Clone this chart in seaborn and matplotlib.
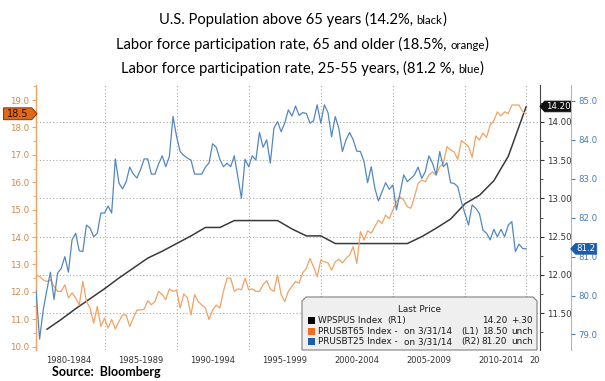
import matplotlib
matplotlib.use("Agg")
import matplotlib.pyplot as plt
import matplotlib.dates as mdates
import matplotlib.ticker as mticker
from matplotlib.patches import Polygon, Rectangle
from matplotlib.path import Path
import pandas as pd
import seaborn as sns

W, H = 605, 381

# Labor force participation rate, 65 and older (quarterly 1980Q1-2014Q1), left axis L1
lfpr_65 = [
    12.62, 12.56, 12.44, 12.38, 12.44, 12.20, 12.02, 12.02, 12.26, 11.78,
    11.96, 11.78, 11.52, 12.38, 11.65, 11.41, 10.86, 11.47, 10.74, 11.04,
    10.68, 10.99, 10.65, 10.92, 11.16, 11.16, 10.74, 11.04, 11.34, 11.34,
    11.37, 11.68, 11.53, 11.65, 12.02, 11.90, 11.72, 12.11, 12.02, 12.06,
    11.41, 11.93, 11.78, 11.16, 11.90, 11.65, 11.52, 11.41, 10.99, 11.34,
    11.52, 11.41, 12.02, 12.50, 12.50, 12.02, 12.11, 12.08, 12.50, 12.08,
    12.11, 12.02, 12.02, 12.26, 12.41, 12.11, 12.02, 12.62, 11.90, 11.65,
    12.02, 12.20, 12.38, 12.32, 12.70, 12.86, 13.22, 12.92, 12.55, 13.16,
    13.10, 13.06, 12.80, 13.10, 13.19, 13.06, 13.22, 13.35, 13.65, 13.04,
    14.20, 13.89, 14.23, 14.14, 14.38, 14.62, 14.50, 14.80, 14.68, 14.99,
    15.29, 15.47, 15.35, 15.11, 15.05, 15.47, 15.96, 16.08, 16.02, 16.26,
    16.38, 16.26, 16.57, 16.69, 17.30, 17.18, 17.11, 16.84, 17.52, 17.42,
    17.30, 16.91, 17.69, 17.54, 17.79, 17.64, 18.09, 18.25, 18.57, 18.42,
    18.57, 18.51, 18.82, 18.82, 18.82, 18.57, 18.50,
]

# Labor force participation rate, 25-55 years (quarterly), right axis R2
lfpr_25_55 = [
    80.14, 78.88, 79.63, 80.14, 80.60, 79.90, 80.58, 80.70, 81.00, 80.60,
    81.43, 81.60, 81.15, 81.13, 81.81, 81.73, 81.51, 81.60, 82.12, 82.12,
    82.30, 82.12, 83.51, 82.89, 82.74, 82.92, 83.30, 83.12, 83.02, 83.23,
    83.51, 83.51, 83.12, 83.12, 83.38, 83.59, 83.31, 83.57, 84.60, 84.08,
    83.70, 83.60, 83.53, 83.48, 83.12, 83.12, 83.12, 83.30, 83.41, 83.90,
    83.81, 83.50, 83.31, 83.40, 83.31, 83.59, 83.05, 82.50, 83.50, 83.31,
    83.59, 83.48, 84.19, 83.81, 84.00, 83.40, 84.30, 84.47, 84.21, 84.43,
    84.77, 84.61, 84.87, 84.63, 84.70, 84.68, 84.43, 84.49, 84.90, 84.43,
    84.90, 84.70, 84.08, 84.60, 84.30, 83.70, 84.00, 84.19, 84.00, 83.71,
    83.70, 83.44, 82.90, 83.31, 82.76, 82.43, 82.67, 82.90, 82.73, 82.84,
    82.20, 82.63, 83.10, 82.93, 83.01, 83.10, 83.30, 83.01, 83.18, 83.59,
    83.40, 83.10, 83.70, 83.31, 83.41, 82.90, 82.88, 82.80, 82.41, 82.10,
    81.81, 82.33, 82.24, 82.11, 81.68, 81.60, 81.43, 81.70, 81.51, 81.70,
    81.51, 81.81, 81.90, 81.13, 81.32, 81.21, 81.20,
]

# U.S. population above 65 years, % (annual 1981-2013 plus last print), right axis R1
pop_years = list(range(1981, 2014))
pop_65 = [
    11.29, 11.42, 11.56, 11.69, 11.82, 11.96, 12.09, 12.22, 12.31, 12.41,
    12.51, 12.62, 12.62, 12.71, 12.71, 12.71, 12.71, 12.60, 12.51, 12.51,
    12.41, 12.41, 12.41, 12.41, 12.41, 12.41, 12.50, 12.61, 12.73, 12.93,
    13.04, 13.23, 13.55,
]
pop_last_date = "2014-03-31"
pop_last = 14.20

period_labels = ["1980-1984", "1985-1989", "1990-1994", "1995-1999",
                 "2000-2004", "2005-2009", "2010-2014"]

title_main = ["U.S. Population above 65 years (14.2%,",
              "Labor force participation rate, 65 and older (18.5%,",
              "Labor force participation rate, 25-55 years, (81.2 %,"]
title_note = ["black", "orange", "blue"]

legend_names = ["WPSPUS Index", "PRUSBT65 Index -", "PRUSBT25 Index -"]
legend_dates = ["", "on 3/31/14", "on 3/31/14"]
legend_axes = ["(R1)", "(L1)", "(R2)"]
legend_last = ["14.20", "18.50", "81.20"]
legend_change = ["+.30", "unch", "unch"]

quarters = pd.date_range("1980-03-31", "2014-03-31", freq="QE")
pop_dates = pd.to_datetime([f"{y}-01-01" for y in pop_years] + [pop_last_date])
pop_values = pop_65 + [pop_last]

BLACK = "#3a3a3a"
ORANGE = "#f2a261"
BLUE = "#5287c2"
ORANGE_TXT = "#d0884c"
BLUE_TXT = "#4a7cb4"
BLUE_SPINE = 535 / 504
TITLE_FONT = ["Lato", "DejaVu Sans"]

sns.set_style("white")
plt.rcParams["font.family"] = ["DejaVu Sans"]

fig = plt.figure(figsize=(W / 100, H / 100), dpi=100)
ax = fig.add_axes([36 / W, 31 / H, 504 / W, 265 / H])
ax_l = ax.twinx()
ax_b = ax.twinx()

sns.lineplot(x=pop_dates, y=pop_values, ax=ax, color=BLACK, linewidth=1.1)
sns.lineplot(x=quarters, y=lfpr_65, ax=ax_l, color=ORANGE, linewidth=0.9)
sns.lineplot(x=quarters, y=lfpr_25_55, ax=ax_b, color=BLUE, linewidth=0.9)
for a in (ax, ax_l, ax_b):
    a.set(xlabel="", ylabel="")
    for s in a.spines.values():
        s.set_visible(False)

# y axes
ax.yaxis.tick_right()
ax_l.yaxis.tick_left()
ax.set_ylim(11.02, 14.48)
ax_l.set_ylim(9.88, 19.55)
ax_b.set_ylim(78.6, 85.41)

ax.spines["right"].set_visible(True)
ax.spines["right"].set_color("#444444")
ax.spines["right"].set_linewidth(0.8)
ax_l.spines["left"].set_visible(True)
ax_l.spines["left"].set_color(ORANGE)
ax_l.spines["left"].set_linewidth(1.0)
ax_b.spines["right"].set_visible(True)
ax_b.spines["right"].set_position(("axes", BLUE_SPINE))
ax_b.spines["right"].set_color("#9db8d8")
ax_b.spines["right"].set_linewidth(0.8)

ax.yaxis.set_major_locator(mticker.MultipleLocator(0.5))
ax.yaxis.set_minor_locator(mticker.MultipleLocator(0.25))
ax.yaxis.set_major_formatter(mticker.FormatStrFormatter("%.2f"))
ax_l.yaxis.set_major_locator(mticker.MultipleLocator(1.0))
ax_l.yaxis.set_minor_locator(mticker.MultipleLocator(0.5))
ax_l.yaxis.set_major_formatter(mticker.FormatStrFormatter("%.1f"))
ax_b.yaxis.set_major_locator(mticker.MultipleLocator(1.0))
ax_b.yaxis.set_major_formatter(mticker.FormatStrFormatter("%.1f"))

ax.tick_params(axis="y", which="major", direction="out", length=3, width=0.8,
               color="#333333", labelcolor="#333333", labelsize=6.2, pad=2)
ax.tick_params(axis="y", which="minor", direction="out", length=2, width=0.6, color="#333333")
ax_l.tick_params(axis="y", which="major", direction="out", length=3, width=0.8,
                 color=ORANGE, labelcolor=ORANGE_TXT, labelsize=6.2, pad=2)
ax_l.tick_params(axis="y", which="minor", direction="out", length=2, width=0.6, color=ORANGE)
ax_b.tick_params(axis="y", which="major", direction="out", length=3, width=0.8,
                 color=BLUE_TXT, labelcolor=BLUE_TXT, labelsize=6.2, pad=2)

# x axis: period separators and centered period labels
end_num = mdates.date2num(quarters[-1])
ax.set_xlim(mdates.date2num(quarters[0]), mdates.date2num(pd.Timestamp("2015-03-15")))
major_x = [mdates.date2num(pd.Timestamp(f"{y}-01-01")) for y in range(1985, 2015, 5)] + [end_num]
mid_x = [mdates.date2num(pd.Timestamp(f"{y + 2}-07-01")) for y in range(1980, 2015, 5)]
ax.set_xticks(major_x)
ax.set_xticklabels([])
ax.set_xticks(mid_x, period_labels, minor=True)
ax.tick_params(axis="x", which="major", direction="out", length=12, width=0.8, color="#c8c8c8")
ax.tick_params(axis="x", which="minor", length=0, labelsize=6, labelcolor="#333333", pad=4)
ax.annotate("20", xy=(end_num, 0), xycoords=ax.get_xaxis_transform(),
            xytext=(2, -4), textcoords="offset points", ha="left", va="top",
            fontsize=6, color="#333333", annotation_clip=False)

ax.grid(True, axis="both", which="major", linestyle=(0, (1, 2)), color="#a8a8a8", linewidth=0.8)


# last-value tags
def tag_style(point, hpad):
    def style(x0, y0, w, h, mutation_size):
        px, py = hpad * mutation_size, 0.1 * mutation_size
        x0, y0, w, h = x0 - px, y0 - py, w + 2 * px, h + 2 * py
        tip = 0.45 * h
        if point == "right":
            v = [(x0, y0), (x0 + w, y0), (x0 + w + tip, y0 + h / 2), (x0 + w, y0 + h), (x0, y0 + h), (x0, y0)]
        else:
            v = [(x0, y0), (x0 + w, y0), (x0 + w, y0 + h), (x0, y0 + h), (x0 - tip, y0 + h / 2), (x0, y0)]
        return Path(v, closed=True)
    return style


ax_l.annotate(f"{lfpr_65[-1]:.1f}", xy=(0, lfpr_65[-1]), xycoords=ax_l.get_yaxis_transform(),
              xytext=(-5.5, 0), textcoords="offset points", ha="right", va="center",
              fontsize=7, color="#2b1000", annotation_clip=False,
              bbox=dict(boxstyle=tag_style("right", 0.35), fc="#e0681a", ec="#6b2c00", lw=0.6))
ax.annotate(f"{pop_last:.2f}", xy=(1, pop_last), xycoords=ax.get_yaxis_transform(),
            xytext=(4, 0), textcoords="offset points", ha="left", va="center",
            fontsize=6.2, color="white", annotation_clip=False,
            bbox=dict(boxstyle=tag_style("left", 0.1), fc="#111111", ec="#111111", lw=0.6))
ax_b.annotate(f"{lfpr_25_55[-1]:.1f}", xy=(BLUE_SPINE, lfpr_25_55[-1]),
              xycoords=ax_b.get_yaxis_transform(),
              xytext=(4, 0), textcoords="offset points", ha="left", va="center",
              fontsize=6.2, color="white", annotation_clip=False,
              bbox=dict(boxstyle=tag_style("left", 0.12), fc="#1c5daa", ec="#1c5daa", lw=0.6))


# legend box ("Last Price")
def fx(x):
    return x / W


def fy(y):
    return 1 - y / H


box = [(302, 350), (302, 301), (306, 297), (533, 297), (537, 301), (537, 350)]
ax_b.add_patch(Polygon([(fx(x), fy(y)) for x, y in box], closed=True, transform=fig.transFigure,
                       fc="#efefef", ec="#808080", lw=0.8, clip_on=False, zorder=10))
lkw = dict(transform=fig.transFigure, fontsize=6.4, color="#1a1a1a", va="center", zorder=11)
ax_b.text(fx(420), fy(309), "Last Price", ha="center", **lkw)
square_colors = ["#000000", "#f26d1f", "#1f5cab"]
row_y = [320.7, 331.2, 341.7]
axes_x = [387, 461, 461]
for i in range(3):
    ax_b.add_patch(Rectangle((fx(308), fy(row_y[i] + 3.5)), 7 / W, 7 / H, transform=fig.transFigure,
                             fc=square_colors[i], ec="none", clip_on=False, zorder=11))
    ax_b.text(fx(318), fy(row_y[i]), legend_names[i], ha="left", **lkw)
    ax_b.text(fx(404), fy(row_y[i]), legend_dates[i], ha="left", **lkw)
    ax_b.text(fx(axes_x[i]), fy(row_y[i]), legend_axes[i], ha="left", **lkw)
    ax_b.text(fx(507), fy(row_y[i]), legend_last[i], ha="right", **lkw)
    ax_b.text(fx(533), fy(row_y[i]), legend_change[i], ha="right", **lkw)

# title: three centered lines, colour word in a smaller size
title_rows = []
for main, note, base in zip(title_main, title_note, [24, 49, 73]):
    kw = dict(family=TITLE_FONT, va="baseline", color="black")
    title_rows.append([fig.text(0, fy(base), main, fontsize=13, **kw),
                       fig.text(0, fy(base), note, fontsize=10, **kw),
                       fig.text(0, fy(base), ")", fontsize=13, **kw)])

renderer = fig.canvas.get_renderer()


def row_widths(row):
    return [t.get_window_extent(renderer).width for t in row]


scale = 372 / (sum(row_widths(title_rows[1])) + 0.25 * 13 * 100 / 72)
for row in title_rows:
    for t in row:
        t.set_fontsize(t.get_fontsize() * scale)
for row in title_rows:
    w = row_widths(row)
    gap = 0.25 * row[0].get_fontsize() * 100 / 72
    x0 = (W - (w[0] + gap + w[1] + w[2])) / 2
    row[0].set_x(fx(x0))
    row[1].set_x(fx(x0 + w[0] + gap))
    row[2].set_x(fx(x0 + w[0] + gap + w[1]))

fig.text(fx(52), fy(372), "Source:  Bloomberg", family=["Lato", "DejaVu Sans"],
         fontweight="bold", fontsize=9, va="center", color="black")

fig.savefig("out.png", dpi=100, facecolor="white")
